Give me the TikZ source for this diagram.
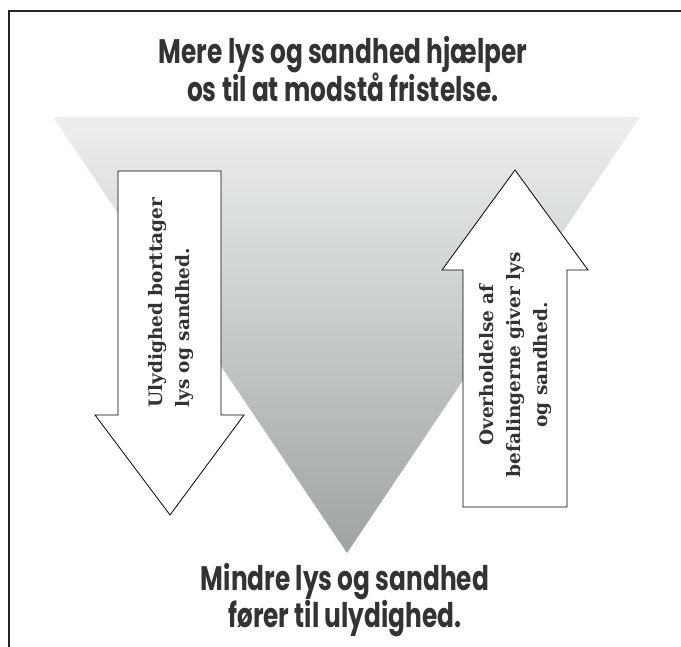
\documentclass[tikz,border=0pt]{standalone}
\usepackage{fontspec}
\setmainfont{DejaVu Serif}
\newfontfamily\headfont[FakeStretch=0.73]{Poppins}
\usetikzlibrary{positioning}
\definecolor{txtgray}{HTML}{333333}
\definecolor{topgray}{HTML}{EDEFEF}
\definecolor{botgray}{HTML}{9EA4A3}
\tikzset{
  every picture/.style={line width=0.7pt},
  shead/.style={font=\headfont\bfseries\fontsize{34}{35}\selectfont, text=txtgray, align=center, inner sep=0pt},
  sarrow/.style={draw=black, fill=white, line width=0.8pt, line join=miter},
  slabel/.style={font=\bfseries\fontsize{18.5}{27}\selectfont, text=txtgray, rotate=90, inner sep=0pt},
  sframe/.style={line width=1.5pt, draw=black!85},
}

\begin{document}
\begin{tikzpicture}[x=1pt, y=-1pt]
  \useasboundingbox (0,0) rectangle (681,647);
  \draw[sframe] (681,11) -- (9,11) -- (9,647);
  % triangle with grey fade
  \coordinate (TL) at (53,117);
  \coordinate (TR) at (640,117);
  \coordinate (TA) at (347,553);
  \shade[top color=topgray, bottom color=botgray] (TL) -- (TR) -- (TA) -- cycle;
  \node[shead] (top) at (343,69) {Mere lys og sandhed hjælper\\os til at modstå fristelse.};
  \node[shead] (bot) at (345,600) {Mindre lys og sandhed\\fører til ulydighed.};
  % down arrow
  \draw[sarrow] (118,171) -- (221,171) -- (221,415) -- (244,415) -- (170,515)
    -- (95,415) -- (118,415) -- cycle;
  \node[slabel, anchor=west, align=left] (down) at (171,408) {Ulydighed borttager\\lys og sandhed.};
  % up arrow
  \draw[sarrow] (463,507) -- (463,270) -- (442,270) -- (515,170) -- (588,270)
    -- (567,270) -- (567,507) -- cycle;
  \node[slabel, align=center] (up) at (516,365) {Overholdelse af\\befalingerne giver lys\\og sandhed.};
\end{tikzpicture}
\end{document}
